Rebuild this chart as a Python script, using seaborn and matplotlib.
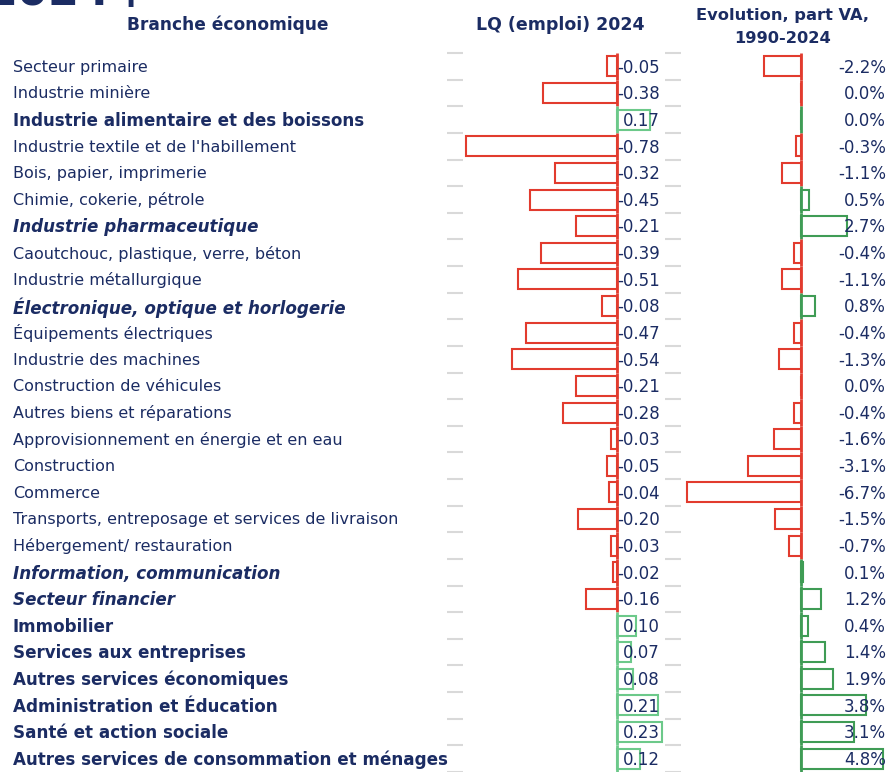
import matplotlib
matplotlib.use("Agg")
import matplotlib.pyplot as plt
import matplotlib.transforms as mtransforms
import numpy as np
import pandas as pd
import seaborn as sns

# data
branches = [
    "Secteur primaire", "Industrie minière", "Industrie alimentaire et des boissons",
    "Industrie textile et de l'habillement", "Bois, papier, imprimerie",
    "Chimie, cokerie, pétrole", "Industrie pharmaceutique",
    "Caoutchouc, plastique, verre, béton", "Industrie métallurgique",
    "Électronique, optique et horlogerie", "Équipements électriques",
    "Industrie des machines", "Construction de véhicules",
    "Autres biens et réparations", "Approvisionnement en énergie et en eau",
    "Construction", "Commerce", "Transports, entreposage et services de livraison",
    "Hébergement/ restauration", "Information, communication", "Secteur financier",
    "Immobilier", "Services aux entreprises", "Autres services économiques",
    "Administration et Éducation", "Santé et action sociale",
    "Autres services de consommation et ménages",
]
styles = [
    "normal", "normal", "bold", "normal", "normal", "normal", "bolditalic",
    "normal", "normal", "bolditalic", "normal", "normal", "normal", "normal",
    "normal", "normal", "normal", "normal", "normal", "bolditalic", "bolditalic",
    "bold", "bold", "bold", "bold", "bold", "bold",
]
lq_2024 = [-0.05, -0.38, 0.17, -0.78, -0.32, -0.45, -0.21, -0.39, -0.51, -0.08,
           -0.47, -0.54, -0.21, -0.28, -0.03, -0.05, -0.04, -0.20, -0.03, -0.02,
           -0.16, 0.10, 0.07, 0.08, 0.21, 0.23, 0.12]
# 0.0% rows keep the sign shown by the colour of their zero line
evol_va = [-2.2, -0.02, 0.02, -0.3, -1.1, 0.5, 2.7, -0.4, -1.1, 0.8, -0.4, -1.3,
           -0.02, -0.4, -1.6, -3.1, -6.7, -1.5, -0.7, 0.1, 1.2, 0.4, 1.4, 1.9,
           3.8, 3.1, 4.8]

df = pd.DataFrame({"branche": branches, "lq": lq_2024, "evol": evol_va})
df["signe_lq"] = np.where(df["lq"] < 0, "neg", "pos")
df["signe_evol"] = np.where(df["evol"] < 0, "neg", "pos")

navy = "#1b2c63"
red = "#e23b2e"
green_lq = "#6cc98a"
green_ev = "#3f9c55"
grid_grey = "#d9d9d9"

sns.set_theme(style="white")
plt.rcParams["font.family"] = ["DejaVu Sans"]

W, H = 889, 772
fig = plt.figure(figsize=(W / 100, H / 100), dpi=100)

pitch = 26.77
top_px = 66.5 - pitch / 2
ymax = -0.5 + (H - top_px) / pitch
ax_top = 1 - top_px / H

ax1 = fig.add_axes([447 / W, 0, (665 - 447) / W, ax_top])
ax2 = fig.add_axes([665 / W, 0, (889 - 665) / W, ax_top])

sns.barplot(data=df, x="lq", y="branche", hue="signe_lq", order=branches,
            palette={"neg": red, "pos": green_lq}, fill=False, dodge=False,
            legend=False, width=0.75, linewidth=1.5, orient="h", ax=ax1)
sns.barplot(data=df, x="evol", y="branche", hue="signe_evol", order=branches,
            palette={"neg": red, "pos": green_ev}, fill=False, dodge=False,
            legend=False, width=0.75, linewidth=1.5, orient="h", ax=ax2)

ax1.set_xlim(-0.876, 0.247)
ax2.set_xlim(-8.0, 5.18)

rows = np.arange(len(branches))
for ax, vals, gcol in [(ax1, lq_2024, green_lq), (ax2, evol_va, green_ev)]:
    ax.set_ylim(ymax, -0.5)
    cols = [red if v < 0 else gcol for v in vals]
    ax.vlines(np.zeros(len(rows)), rows - 0.5, rows + 0.5, colors=cols, lw=2)
    ax.set_xlabel("")
    ax.set_ylabel("")
    ax.set_xticks([])
    ax.set_yticks([])
    ax.set_yticks(np.arange(-0.5, len(branches), 1), minor=True)
    ax.tick_params(axis="y", which="minor", direction="in", length=11.5,
                   width=1.5, color=grid_grey, left=True)
    for s in ax.spines.values():
        s.set_visible(False)
    ax.patch.set_alpha(0)

# value labels
t1 = mtransforms.blended_transform_factory(ax1.transAxes, ax1.transData)
for i, v in enumerate(lq_2024):
    ax1.text(0.977, i - 0.03, f"{v:.2f}", transform=t1, ha="right",
             va="center_baseline", fontsize=12, color=navy)
t2 = mtransforms.blended_transform_factory(ax2.transAxes, ax2.transData)
for i, v in enumerate(evol_va):
    txt = f"{v:.1f}%".replace("-0.0%", "0.0%")
    ax2.text(0.987, i - 0.03, txt, transform=t2, ha="right", va="center_baseline",
             fontsize=12, color=navy)

# branch names
trans = mtransforms.blended_transform_factory(fig.transFigure, ax1.transData)
for i, (name, st) in enumerate(zip(branches, styles)):
    weight = "bold" if "bold" in st else "normal"
    style = "italic" if "italic" in st else "normal"
    size = 12.1 if weight == "bold" else 11.5
    ax1.text(13 / W, i - 0.03, name, transform=trans, ha="left", va="center_baseline",
             fontsize=size, fontweight=weight, fontstyle=style, color=navy)

# headers
fig.text(228 / W, 1 - 25 / H, "Branche économique", ha="center", va="center",
         fontsize=12.25, fontweight="bold", color=navy)
fig.text(560 / W, 1 - 25 / H, "LQ (emploi) 2024", ha="center", va="center",
         fontsize=12.5, fontweight="bold", color=navy)
fig.text(783 / W, 1 - 27 / H, "Evolution, part VA,\n1990-2024", ha="center",
         va="center", fontsize=11.7, fontweight="bold", color=navy, linespacing=1.6)

# cut-off title at the very top
fig.text(-13 / W, 1 - 6 / H, "2024", ha="left", va="baseline", fontsize=32,
         fontweight="bold", color=navy)
fig.text(122 / W, 1 + 4 / H, "|", ha="left", va="baseline", fontsize=32,
         fontweight="bold", color=navy)

fig.savefig("out.png", dpi=100)
